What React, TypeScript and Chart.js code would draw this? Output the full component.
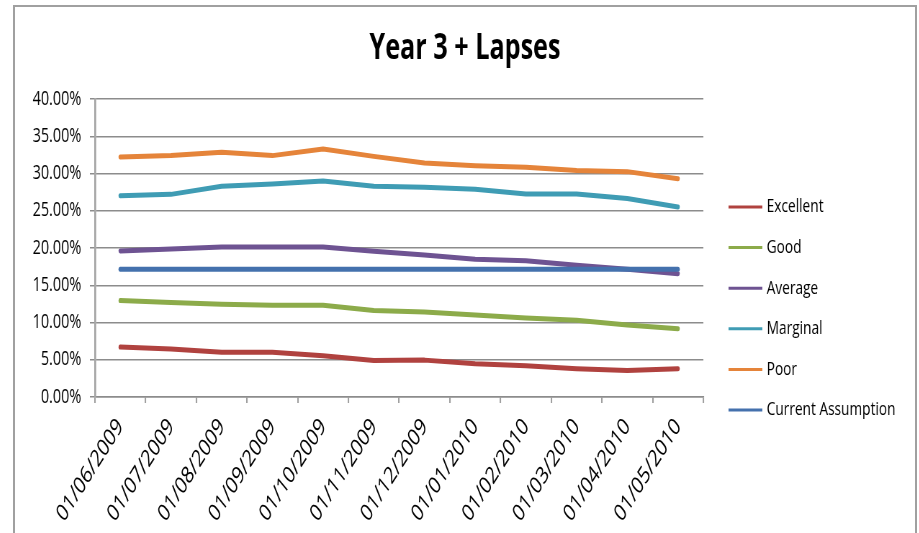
import React, { useEffect, useRef } from "react";
import { Chart, registerables } from "chart.js";

Chart.register(...registerables);

const categories = [
  "01/06/2009", "01/07/2009", "01/08/2009", "01/09/2009", "01/10/2009", "01/11/2009",
  "01/12/2009", "01/01/2010", "01/02/2010", "01/03/2010", "01/04/2010", "01/05/2010",
];

const excellent = [6.7, 6.45, 6.0, 6.0, 5.55, 4.9, 4.95, 4.45, 4.2, 3.8, 3.55, 3.8];
const good = [12.95, 12.7, 12.45, 12.3, 12.3, 11.6, 11.4, 11.0, 10.6, 10.3, 9.65, 9.15];
const average = [19.6, 19.85, 20.15, 20.15, 20.15, 19.55, 19.05, 18.5, 18.3, 17.7, 17.15, 16.55];
const marginal = [27.0, 27.2, 28.3, 28.6, 29.0, 28.3, 28.15, 27.9, 27.25, 27.25, 26.65, 25.5];
const poor = [32.2, 32.4, 32.85, 32.4, 33.3, 32.3, 31.4, 31.05, 30.85, 30.4, 30.25, 29.3];
const currentAssumption = [17.15, 17.15, 17.15, 17.15, 17.15, 17.15, 17.15, 17.15, 17.15, 17.15, 17.15, 17.15];

const yTicks = [0, 5, 10, 15, 20, 25, 30, 35, 40];

const chartTitle = "Year 3 + Lapses";
const seriesNames = ["Excellent", "Good", "Average", "Marginal", "Poor", "Current Assumption"];
const seriesColors = ["#B0423F", "#8CAB4A", "#6E5392", "#3F9CB4", "#E5843A", "#4471AD"];

// the picture is horizontally condensed: draw wide, then squeeze
const SQUEEZE = 0.72;
const CSS_W = 900;
const CSS_H = 526;
const W = Math.round(CSS_W / SQUEEZE);

const FONT = "'Open Sans', 'Noto Sans', sans-serif";

const titleAndLegend = {
  id: "titleAndLegend",
  afterDraw(chart: any) {
    const ctx = chart.ctx;
    const area = chart.chartArea;
    ctx.save();
    ctx.fillStyle = "#000";
    ctx.textAlign = "center";
    ctx.textBaseline = "alphabetic";
    ctx.font = `bold 35px ${FONT}`;
    ctx.fillText(chartTitle, chart.width / 2, 52);

    ctx.font = `19px ${FONT}`;
    ctx.textBaseline = "middle";
    ctx.textAlign = "left";
    chart.data.datasets.forEach((d: any, i: number) => {
      const y = area.top + 108 + i * 40.6;
      const x0 = area.right + 35;
      ctx.strokeStyle = d.borderColor;
      ctx.lineWidth = 3;
      ctx.beginPath();
      ctx.moveTo(x0, y);
      ctx.lineTo(x0 + 47, y);
      ctx.stroke();
      ctx.fillStyle = "#000";
      ctx.fillText(d.label, x0 + 53, y);
    });
    ctx.restore();
  },
};

export default function App() {
  const ref = useRef<HTMLCanvasElement>(null);

  useEffect(() => {
    const values = [excellent, good, average, marginal, poor, currentAssumption];
    const datasets = values.map((v, i) => ({
      label: seriesNames[i],
      data: v,
      borderColor: seriesColors[i],
      backgroundColor: seriesColors[i],
      borderWidth: 5,
      pointRadius: 0,
      tension: 0,
      borderCapStyle: "round" as const,
      borderJoinStyle: "round" as const,
      fill: false,
      order: values.length - i,
    }));

    const chart = new Chart(ref.current as HTMLCanvasElement, {
      type: "line",
      data: { labels: categories, datasets },
      plugins: [titleAndLegend],
      options: {
        responsive: false,
        animation: false,
        devicePixelRatio: 1,
        layout: { padding: { left: 0, right: 294, top: 92, bottom: 0 } },
        plugins: {
          tooltip: { enabled: false },
          legend: { display: false },
          title: { display: false },
        },
        scales: {
          x: {
            type: "category",
            offset: true,
            grid: {
              display: true,
              offset: true,
              drawOnChartArea: false,
              drawTicks: true,
              tickLength: 6,
              color: "#A0A0A0",
              lineWidth: 2.1,
            },
            border: { display: true, color: "#8C8C8C", width: 1.5 },
            ticks: {
              autoSkip: false,
              minRotation: 49,
              maxRotation: 49,
              padding: 10,
              color: "#000",
              font: { family: FONT, size: 24 },
            },
            afterFit: (s: any) => {
              s.height = 136;
            },
          },
          y: {
            min: 0,
            max: 40,
            afterBuildTicks: (s: any) => {
              s.ticks = yTicks.map((v) => ({ value: v }));
            },
            grid: {
              color: "#8C8C8C",
              lineWidth: 1.5,
              drawTicks: true,
              tickLength: 7,
            },
            border: { display: true, color: "#A6A6A6", width: 2.8 },
            ticks: {
              padding: 12,
              color: "#000",
              font: { family: FONT, size: 20 },
              callback: (v: any) => Number(v).toFixed(2) + "%",
            },
            afterFit: (s: any) => {
              s.width = 111;
            },
          },
        },
      },
    });
    return () => chart.destroy();
  }, []);

  return (
    <div
      style={{
        position: "absolute",
        left: 13,
        top: 5,
        width: CSS_W,
        height: CSS_H,
        borderTop: "2px solid #A0A0A0",
        borderLeft: "2px solid #A0A0A0",
        borderRight: "2px solid #A0A0A0",
        background: "#fff",
        overflow: "hidden",
      }}
    >
      <div style={{ width: W, height: CSS_H, transform: `scaleX(${SQUEEZE})`, transformOrigin: "0 0" }}>
        <canvas ref={ref} width={W} height={CSS_H} style={{ display: "block" }} />
      </div>
    </div>
  );
}
